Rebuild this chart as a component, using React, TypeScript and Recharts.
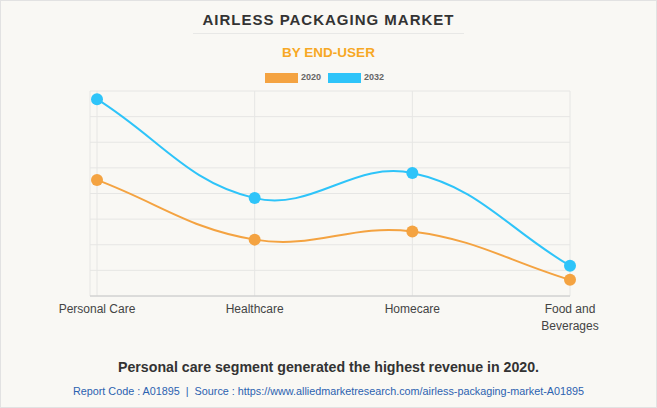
import { LineChart, Line, XAxis, YAxis, CartesianGrid } from 'recharts'

const categories = ['Personal Care', 'Healthcare', 'Homecare', 'Food and Beverages']
const values2020 = [4.53, 2.2, 2.52, 0.63]
const values2032 = [7.68, 3.82, 4.8, 1.18]
const yTicks = [0, 1, 2, 3, 4, 5, 6, 7, 8]

const tickLines: Record<string, string[]> = {
  'Food and Beverages': ['Food and', 'Beverages'],
}

const data = categories.map((name, i) => ({
  name,
  y2020: values2020[i],
  y2032: values2032[i],
}))

const ORANGE = '#f4a341'
const BLUE = '#2ec4f9'
const FONT = 'Arial, "Liberation Sans", Helvetica, sans-serif'

// spline with tension, like the chart.js default line curve
function tensionCurve(context: any) {
  let pts: [number, number][] = []
  return {
    areaStart() {},
    areaEnd() {},
    lineStart() {
      pts = []
    },
    point(x: number, y: number) {
      pts.push([+x, +y])
    },
    lineEnd() {
      const t = 0.4
      const n = pts.length
      if (!n) return
      const cps = pts.map((cur, i) => {
        const prev = pts[i - 1] || cur
        const next = pts[i + 1] || cur
        const d01 = Math.hypot(cur[0] - prev[0], cur[1] - prev[1])
        const d12 = Math.hypot(next[0] - cur[0], next[1] - cur[1])
        const s = d01 + d12 || 1
        const fa = (t * d01) / s
        const fb = (t * d12) / s
        return {
          prev: [cur[0] - fa * (next[0] - prev[0]), cur[1] - fa * (next[1] - prev[1])],
          next: [cur[0] + fb * (next[0] - prev[0]), cur[1] + fb * (next[1] - prev[1])],
        }
      })
      context.moveTo(pts[0][0], pts[0][1])
      for (let i = 1; i < n; i++) {
        const a = cps[i - 1].next
        const b = cps[i].prev
        context.bezierCurveTo(a[0], a[1], b[0], b[1], pts[i][0], pts[i][1])
      }
    },
  }
}

function CategoryTick(props: any) {
  const { x, y, payload } = props
  const lines = tickLines[payload.value] || [payload.value]
  return (
    <text x={x} y={y} textAnchor="middle" fill="#444" fontSize={12} fontFamily={FONT}>
      {lines.map((l, i) => (
        <tspan key={i} x={x} dy={i === 0 ? 9 : 17}>
          {l}
        </tspan>
      ))}
    </text>
  )
}

export default function App() {
  return (
    <div
      style={{
        position: 'absolute',
        left: 0,
        top: 0,
        width: 655,
        height: 406,
        background: '#f9f8f4',
        border: '1px solid #e2e2e2',
        fontFamily: FONT,
        overflow: 'hidden',
      }}
    >
      <div
        style={{
          position: 'absolute',
          top: 10,
          width: '100%',
          textAlign: 'center',
          fontSize: 15,
          fontWeight: 'bold',
          letterSpacing: 1,
          color: '#333',
        }}
      >
        AIRLESS PACKAGING MARKET
      </div>
      <div style={{ position: 'absolute', top: 32, left: 192, width: 271, height: 1, background: '#e8e8e6' }} />
      <div
        style={{
          position: 'absolute',
          top: 44,
          width: '100%',
          textAlign: 'center',
          fontSize: 13.5,
          fontWeight: 'bold',
          color: '#f7a824',
        }}
      >
        BY END-USER
      </div>
      <div style={{ position: 'absolute', top: 72, left: 264, width: 33, height: 10, background: ORANGE }} />
      <div style={{ position: 'absolute', top: 71, left: 300, fontSize: 9, fontWeight: 'bold', color: '#666' }}>2020</div>
      <div style={{ position: 'absolute', top: 72, left: 327, width: 33, height: 10, background: BLUE }} />
      <div style={{ position: 'absolute', top: 71, left: 363, fontSize: 9, fontWeight: 'bold', color: '#666' }}>2032</div>

      <div style={{ position: 'absolute', left: 0, top: 0 }}>
        <LineChart width={655} height={406} data={data} margin={{ top: 90, right: 86, left: 89, bottom: 71 }}>
          <CartesianGrid stroke="#e6e6e4" strokeWidth={1} />
          <XAxis
            dataKey="name"
            interval={0}
            height={40}
            padding={{ left: 7, right: 0 }}
            tickLine={false}
            axisLine={{ stroke: '#c8c8c8' }}
            tick={<CategoryTick />}
          />
          <YAxis hide domain={[0, 8]} ticks={yTicks} />
          <Line
            type={tensionCurve as any}
            dataKey="y2020"
            stroke={ORANGE}
            strokeWidth={2}
            dot={{ r: 6, fill: ORANGE, stroke: ORANGE, strokeWidth: 0 }}
            isAnimationActive={false}
          />
          <Line
            type={tensionCurve as any}
            dataKey="y2032"
            stroke={BLUE}
            strokeWidth={2}
            dot={{ r: 6, fill: BLUE, stroke: BLUE, strokeWidth: 0 }}
            isAnimationActive={false}
          />
        </LineChart>
      </div>

      <div
        style={{
          position: 'absolute',
          top: 358,
          width: '100%',
          textAlign: 'center',
          fontSize: 14.2,
          fontWeight: 'bold',
          color: '#333',
        }}
      >
        Personal care segment generated the highest revenue in 2020.
      </div>
      <div
        style={{
          position: 'absolute',
          top: 384,
          width: '100%',
          textAlign: 'center',
          fontSize: 10.8,
          color: '#2c62b0',
        }}
      >
        Report Code : A01895&nbsp;&nbsp;|&nbsp;&nbsp;Source : https://www.alliedmarketresearch.com/airless-packaging-market-A01895
      </div>
    </div>
  )
}
